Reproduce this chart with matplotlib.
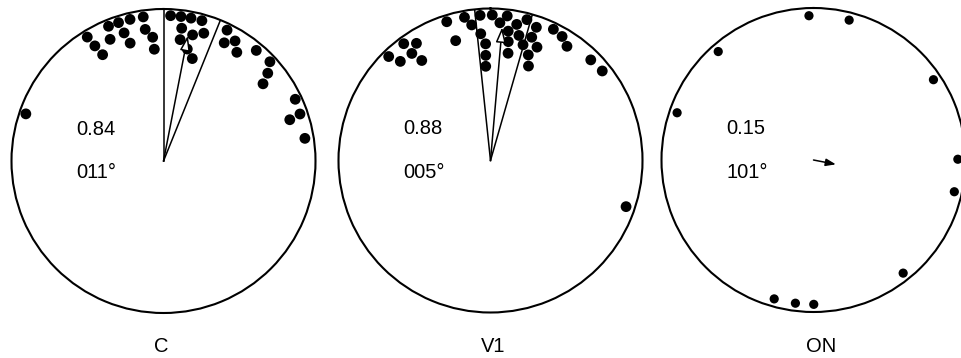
import numpy as np
import matplotlib
matplotlib.use('Agg')
import matplotlib.pyplot as plt

plt.rcParams['font.family'] = ['Liberation Sans', 'DejaVu Sans']

# ---------------- data ----------------
panel_labels = ['C', 'V1', 'ON']
mean_r = [0.84, 0.88, 0.15]          # mean vector length
mean_deg = [11, 5, 101]              # mean direction (degrees)
ci_half = [11, 11, None]             # half-width of confidence wedge (degrees)

# individual directions (degrees) and stacking depth (number of dots inward)
c_deg = [328.4, 329.2, 330.2, 337.8, 336.3, 342.0, 342.9, 346.7, 344.2, 352.0,
         352.1, 355.0, 355.3, 2.8, 6.9, 10.9, 15.3, 17.5, 7.8, 13.0,
         7.8, 12.0, 15.7, 25.9, 27.2, 30.8, 34.0, 40.0, 47.0, 49.9,
         52.2, 64.9, 71.0, 71.9, 80.9, 288.9]
c_stack = [0, 1, 2, 0, 1.1, 0, 1, 0, 2, 0,
           1.1, 1.85, 2.9, 0, 0, 0, 0, 1, 1, 1.4,
           2, 2.7, 3.4, 0, 1.1, 0.5, 1.25, 0.1, 0, 0.8,
           1.7, 0, 0.1, 1.1, 0.2, 0]

v1_deg = [315.6, 317.7, 323.4, 323.7, 327.7, 325.5, 342.5, 343.8, 349.7, 352.1,
          355.9, 0.7, 6.6, 355.6, 357.6, 357.4, 357.1, 3.9, 7.8, 8.5,
          9.3, 10.9, 12.8, 14.5, 15.7, 18.5, 19.7, 21.9, 19.0, 22.3,
          25.6, 30.0, 33.8, 44.9, 51.3, 108.8]
v1_stack = [0, 1, 0, 1.1, 0.6, 2.1, 0, 1.8, 0, 0.75,
            0, 0, 0, 1.6, 2.5, 3.5, 4.45, 0.65, 1.3, 2.2,
            3.2, 0.6, 1.5, 0, 2.2, 1.35, 2.9, 3.8, 0.4, 2.0,
            0, 0.2, 0.7, 0.3, 0.2, 0.2]

on_deg = [358.2, 14.3, 318.7, 56.2, 289.1, 89.7, 102.7, 141.6, 179.9, 187.2, 195.8]
on_stack = [0.1] * 11

panel_deg = [c_deg, v1_deg, on_deg]
panel_stack = [c_stack, v1_stack, on_stack]

# ---------------- layout ----------------
W, H = 961, 358
fig = plt.figure(figsize=(W / 100, H / 100), dpi=100)
fig.patch.set_facecolor('white')

centers = [(163.5, 161.0), (490.5, 160.5), (813.5, 160.0)]   # pixel, from top
R = 152.0
dot_px = [10.8, 10.8, 9.2]
label_x = [161.5, 493.0, 821.0]
label_base = 352.5
OUT_PX, STEP_PX = 145.5, 11.5

for i in range(3):
    cx, cy = centers[i]
    rect = [(cx - R) / W, (H - cy - R) / H, 2 * R / W, 2 * R / H]
    ax = fig.add_axes(rect, projection='polar')
    ax.set_theta_zero_location('N')
    ax.set_theta_direction(-1)
    ax.set_ylim(0, 1)
    ax.set_xticks([])
    ax.set_yticks([])
    ax.grid(False)
    ax.spines['polar'].set_linewidth(1.5)
    ax.spines['polar'].set_color('black')
    ax.patch.set_alpha(0)

    th = np.deg2rad(np.array(panel_deg[i]))
    rr = (OUT_PX - STEP_PX * np.array(panel_stack[i])) / R
    s = (dot_px[i] * 72 / 100) ** 2
    ax.scatter(th, rr, s=s, color='black', edgecolors='none', zorder=3, clip_on=False)

    # confidence wedge
    if ci_half[i] is not None:
        for d in (mean_deg[i] - ci_half[i], mean_deg[i] + ci_half[i]):
            t = np.deg2rad(d)
            ax.plot([t, t], [0, 1], color='black', lw=1.1, zorder=2)

    # mean vector
    tm = np.deg2rad(mean_deg[i])
    if ci_half[i] is not None:
        aprops = dict(arrowstyle='-|>,head_length=0.9,head_width=0.3',
                      fc='white', ec='black', lw=1.1, shrinkA=0, shrinkB=0)
    else:
        aprops = dict(arrowstyle='-|>,head_length=0.6,head_width=0.22',
                      fc='black', ec='black', lw=1.1, shrinkA=0, shrinkB=0)
    ax.annotate('', xy=(tm, mean_r[i]), xytext=(tm, 0.0), arrowprops=aprops, zorder=4)

    # statistics text
    tx = 0.5 - 87 / (2 * R)
    ax.text(tx, 0.5 + 26 / (2 * R), f'{mean_r[i]:.2f}', transform=ax.transAxes,
            ha='left', va='baseline', fontsize=14.5)
    ax.text(tx, 0.5 - 17.5 / (2 * R), f'{mean_deg[i]:03d}\u00b0', transform=ax.transAxes,
            ha='left', va='baseline', fontsize=14.5)

    fig.text(label_x[i] / W, (H - label_base) / H, panel_labels[i],
             ha='center', va='baseline', fontsize=14.5)

fig.savefig('out.png', dpi=100, facecolor='white')
